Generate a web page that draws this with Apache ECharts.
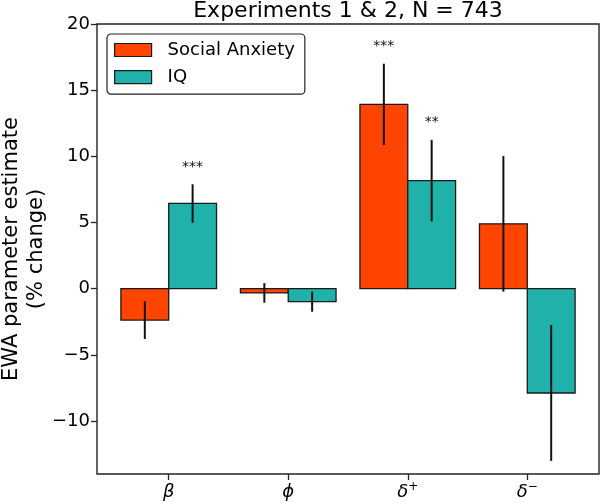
<!DOCTYPE html>
<html>
<head>
<meta charset="utf-8">
<script src="https://cdn.jsdelivr.net/npm/echarts@6/dist/echarts.min.js"></script>
<style>html,body{margin:0;padding:0;background:#fff}#chart{width:600px;height:503px}</style>
</head>
<body>
<div id="chart"></div>
<script>
// ---- data ----
const greekLabels = ['β', 'ϕ', 'δ', 'δ'];
const superscripts = ['', '', '+', '−'];
const categoryIndex = [0, 1, 2, 3];
const socialAnxiety = [-2.37, -0.32, 13.93, 4.90];
const socialAnxietyErr = [1.43, 0.74, 3.07, 5.12];
const socialAnxietyStars = ['', '', '***', ''];
const iq = [6.44, -0.98, 8.17, -7.88];
const iqErr = [1.45, 0.76, 3.08, 5.13];
const iqStars = ['***', '', '**', ''];
const yTicks = [-10, -5, 0, 5, 10, 15, 20];
const seriesNames = ['Social Anxiety', 'IQ'];

// ---- style ----
const FONT = 'DejaVu Sans';
const BAR_W = 0.4;
const STAR_OFFSET = 1.3;
const colors = ['#FF4500', '#20B2AA'];

function fmtY(v) { return v < 0 ? '\u2212' + Math.abs(v) : String(v); }

function makeRender(offset, starList) {
  return function (params, api) {
    const c = api.value(0), v = api.value(1), e = api.value(2);
    const stars = starList[params.dataIndex];
    const cx = c + offset;
    const a = api.coord([cx - BAR_W / 2, Math.max(v, 0)]);
    const b = api.coord([cx + BAR_W / 2, Math.min(v, 0)]);
    const et = api.coord([cx, v + e]);
    const eb = api.coord([cx, v - e]);
    const children = [
      { type: 'rect', shape: { x: a[0], y: a[1], width: b[0] - a[0], height: b[1] - a[1] },
        style: { fill: api.visual('color'), stroke: '#1a1a1a', lineWidth: 1.3 } },
      { type: 'line', shape: { x1: et[0], y1: et[1], x2: eb[0], y2: eb[1] },
        style: { stroke: '#111', lineWidth: 2 } }
    ];
    if (stars) {
      const sp = api.coord([cx, v + e + STAR_OFFSET]);
      children.push({ type: 'text', x: sp[0], y: sp[1],
        style: { text: stars, fill: '#111', font: '14px "DejaVu Sans"', align: 'center', verticalAlign: 'middle' } });
    }
    return { type: 'group', children: children };
  };
}

const chart = echarts.init(document.getElementById('chart'), null, { renderer: 'canvas' });
chart.setOption({
  animation: false,
  backgroundColor: '#fff',
  title: {
    text: 'Experiments 1 & 2, N = 743',
    left: 348, top: 0, textAlign: 'center', padding: 0,
    textStyle: { fontFamily: FONT, fontSize: 22, fontWeight: 'normal', color: '#000' }
  },
  legend: {
    orient: 'vertical', left: 107, top: 34,
    data: seriesNames,
    backgroundColor: '#fff', borderColor: '#222', borderWidth: 1.2, borderRadius: 4,
    padding: [7, 10, 8, 7],
    itemWidth: 37, itemHeight: 13, itemGap: 9.2,
    icon: 'rect',
    itemStyle: { borderColor: '#1a1a1a', borderWidth: 1.2 },
    textStyle: { fontFamily: FONT, fontSize: 18, color: '#000', padding: [0, 0, 0, 11] }
  },
  grid: { left: 97, right: 1, top: 24, bottom: 29, show: true, containLabel: false, outerBoundsMode: 'none',
          borderColor: '#222', borderWidth: 1.4, backgroundColor: 'transparent' },
  xAxis: {
    type: 'value', min: -0.6, max: 3.6,
    axisLine: { show: false, onZero: false },
    splitLine: { show: false },
    axisTick: { show: true, customValues: categoryIndex, length: 6, lineStyle: { color: '#222', width: 1.3 } },
    axisLabel: {
      customValues: categoryIndex, margin: 7,
      formatter: function (v) {
        const i = Math.round(v);
        return '{g|' + greekLabels[i] + '}' + (superscripts[i] ? '{s|' + superscripts[i] + '}' : '');
      },
      rich: {
        g: { fontFamily: FONT, fontStyle: 'italic', fontSize: 18, color: '#000', lineHeight: 22 },
        s: { fontFamily: FONT, fontSize: 12, color: '#000', verticalAlign: 'top', lineHeight: 12 }
      }
    }
  },
  yAxis: {
    type: 'value', min: -14, max: 20,
    name: 'EWA parameter estimate\n(% change)',
    nameLocation: 'middle', nameRotate: 90, nameGap: 48, nameMoveOverlap: false,
    nameTextStyle: { fontFamily: FONT, fontSize: 21, color: '#000', lineHeight: 25, align: 'center' },
    axisLine: { show: false, onZero: false },
    splitLine: { show: false },
    axisTick: { show: true, customValues: yTicks, length: 6, lineStyle: { color: '#222', width: 1.3 } },
    axisLabel: { customValues: yTicks, margin: 7, formatter: fmtY, fontFamily: FONT, fontSize: 18, color: '#000' }
  },
  series: [
    {
      name: seriesNames[0], type: 'custom', renderItem: makeRender(-BAR_W / 2, socialAnxietyStars),
      itemStyle: { color: colors[0], borderColor: '#1a1a1a', borderWidth: 1.2 },
      encode: { x: 0, y: 1 },
      data: categoryIndex.map((c, i) => [c, socialAnxiety[i], socialAnxietyErr[i]])
    },
    {
      name: seriesNames[1], type: 'custom', renderItem: makeRender(BAR_W / 2, iqStars),
      itemStyle: { color: colors[1], borderColor: '#1a1a1a', borderWidth: 1.2 },
      encode: { x: 0, y: 1 },
      data: categoryIndex.map((c, i) => [c, iq[i], iqErr[i]])
    }
  ]
});
</script>
</body>
</html>
